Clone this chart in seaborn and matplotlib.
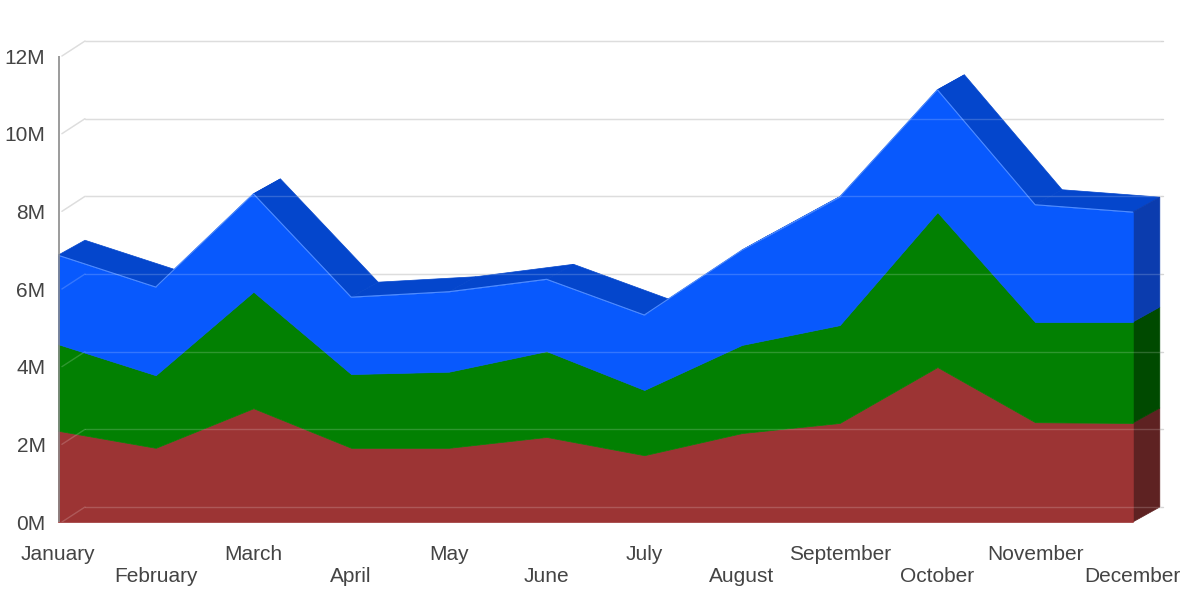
import matplotlib
matplotlib.use("Agg")
import matplotlib.pyplot as plt
from matplotlib import font_manager
import seaborn as sns
import numpy as np

months = ["January", "February", "March", "April", "May", "June", "July",
          "August", "September", "October", "November", "December"]
# individual series values (millions), stacked bottom -> top
series_red = [2.35, 1.91, 2.93, 1.91, 1.91, 2.19, 1.72, 2.29, 2.55, 3.99, 2.57, 2.55]
series_green = [2.23, 1.87, 3.00, 1.90, 1.96, 2.21, 1.68, 2.27, 2.52, 3.99, 2.58, 2.60]
series_blue = [2.29, 2.27, 2.52, 1.98, 2.06, 1.85, 1.93, 2.44, 3.30, 3.15, 3.02, 2.83]
y_ticks = [0, 2, 4, 6, 8, 10, 12]
y_tick_labels = ["0M", "2M", "4M", "6M", "8M", "10M", "12M"]

front_colors = ["#9c3434", "#028002", "#0859fd"]
side_colors = ["#5e2222", "#004a00", "#0b3cae"]
top_color = "#0446cc"

sns.set_style("white")
avail = {f.name for f in font_manager.fontManager.ttflist}
fam = "Liberation Sans Narrow" if "Liberation Sans Narrow" in avail else "Liberation Sans"
plt.rcParams["font.family"] = [fam, "DejaVu Sans"]
text_color = "#444444"

fig = plt.figure(figsize=(12, 5.98), dpi=100)
ax = fig.add_axes([58 / 1200, (598 - 522) / 598, 1110 / 1200, 485.4 / 598])
ax.set_xlim(0, 11.36)
ax.set_ylim(0, 12.5)
for s in ax.spines.values():
    s.set_visible(False)

x = np.arange(len(months))
layers = [np.array(series_red), np.array(series_green), np.array(series_blue)]
cum = np.cumsum(layers, axis=0)
lows = [np.zeros(len(months)), cum[0], cum[1]]
highs = [cum[0], cum[1], cum[2]]

# depth offset (3D look) in data units
dx = 27 / 97.73
dy = 15 / 38.83
last = x[-1]

# back-wall gridlines
for v in y_ticks:
    ax.plot([0.04, dx], [v, v + dy], color="#d6d6d6", lw=1, zorder=1)
    ax.plot([dx, last + dx + 0.03], [v + dy, v + dy], color="#d6d6d6", lw=1, zorder=1)

# top surface of the upper layer
top = highs[-1]
for i in range(len(x) - 1):
    quad = [(x[i], top[i]), (x[i + 1], top[i + 1]),
            (x[i + 1] + dx, top[i + 1] + dy), (x[i] + dx, top[i] + dy)]
    ax.add_patch(plt.Polygon(quad, closed=True, facecolor=top_color,
                             edgecolor=top_color, lw=0.5, zorder=2))

# right side faces
for lo, hi, c in zip(lows, highs, side_colors):
    quad = [(last, lo[-1]), (last, hi[-1]), (last + dx, hi[-1] + dy), (last + dx, lo[-1] + dy)]
    ax.add_patch(plt.Polygon(quad, closed=True, facecolor=c, edgecolor=c, lw=0.5, zorder=2))

# front faces
for lo, hi, c in zip(lows, highs, front_colors):
    ax.fill_between(x, lo, hi, color=c, lw=0.5, edgecolor=c, zorder=3)

# faint highlight on the blue front top edge
sns.lineplot(x=x, y=top, color="#4f8cff", lw=0.8, ax=ax, zorder=4)

# faint gridlines showing through
for v in y_ticks:
    ax.plot([0.04, dx], [v, v + dy], color="white", lw=1, alpha=0.18, zorder=4)
    ax.plot([dx, last + dx], [v + dy, v + dy], color="white", lw=1, alpha=0.18, zorder=4)

# y axis line
ax.vlines(0.01, 0, 12, color="#8a8a8a", lw=1.2, zorder=5)

ax.set_yticks(y_ticks)
ax.set_yticklabels(y_tick_labels, color=text_color, fontsize=15)
ax.tick_params(axis="y", length=0, pad=9)
ax.set_xticks([])
ax.set_xlabel("")
ax.set_ylabel("")

for i, m in enumerate(months):
    off = -38 if i % 2 == 0 else -60
    ax.annotate(m, xy=(x[i], 0), xycoords=("data", "axes fraction"),
                xytext=(0, off), textcoords="offset pixels",
                ha="center", va="baseline", fontsize=15, color=text_color,
                annotation_clip=False)

fig.savefig("out.png", dpi=100)
